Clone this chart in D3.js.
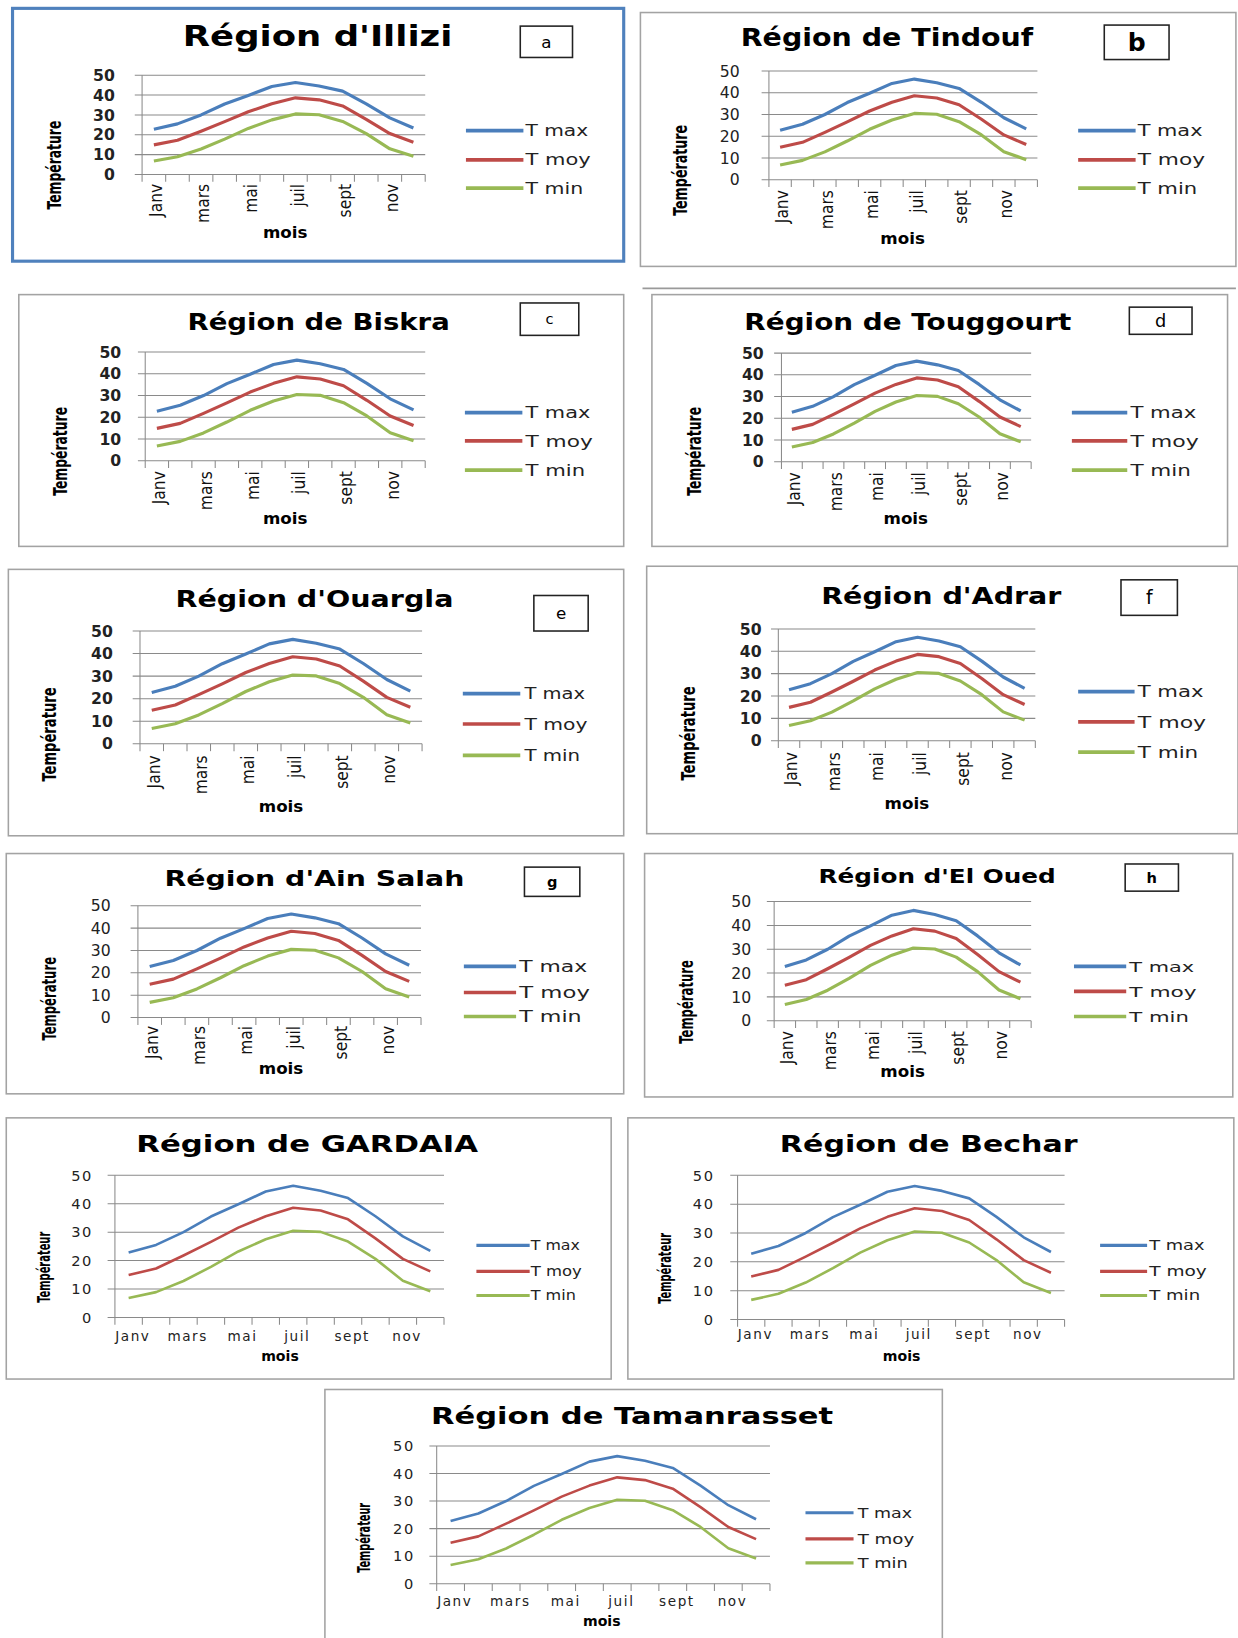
<!DOCTYPE html>
<html>
<head>
<meta charset="utf-8">
<script src="https://cdn.jsdelivr.net/npm/d3@7"></script>
<style>
  body { margin: 0; background: #fff; }
</style>
</head>
<body>
<div id="scene"></div>
<script>
// données (identiques pour toutes les régions)
var mois = ["Janv", "févr", "mars", "avr", "mai", "juin", "juil", "août", "sept", "oct", "nov", "déc"];
var tmax = [22.8, 25.5, 30, 35.5, 39.8, 44.3, 46.3, 44.6, 42, 35.6, 28.5, 23.4];
var tmoy = [14.9, 17.2, 21.8, 26.6, 31.6, 35.6, 38.6, 37.6, 34.5, 27.8, 20.6, 16.2];
var tmin = [6.8, 8.9, 12.8, 17.8, 23.2, 27.5, 30.5, 30.1, 26.7, 20.6, 12.9, 9.2];
var seriesNames = ["T max", "T moy", "T min"];
var yTicks = [0, 10, 20, 30, 40, 50];

var colors = ["#4a7ebb", "#be4b48", "#98b954"];
var F_VERD = "'DejaVu Sans', Verdana, sans-serif";
var F_NARROW = "'Liberation Sans Narrow', 'DejaVu Sans Condensed', 'Arial Narrow', sans-serif";

// mise en page de chaque graphique (coordonnées de la figure réduite 1185x1568)
var panels = [
  {title: "Région d'Illizi", box: [12, 8, 597, 250], border: "#4f81bd", bw: 3,
   tx: 304, ty: 44, tfs: 27, tw: 258, lab: [498, 25, 548, 55, "a", 16, false],
   plot: {l: 136, r: 407, t: 72, b: 167}, tickR: 110, tickBold: true, rot: true, xlab: 176,
   moisX: 273, moisY: 222, yt: "Température", ytX: 52, ytY: 158, ytW: 85,
   leg: {x0: 446, x1: 501, tx: 503, ys: [125, 153, 180], w: 60, fs: 15}, lw: 3},
  {title: "Région de Tindouf", box: [613, 12, 1183, 255],
   tx: 849, ty: 44, tfs: 23, tw: 280, lab: [1057, 24, 1119, 57, "b", 24, true],
   plot: {l: 736, r: 993, t: 68, b: 172}, tickR: 708, tickBold: false, rot: true, xlab: 182,
   moisX: 864, moisY: 228, yt: "Température", ytX: 651, ytY: 163, ytW: 87,
   leg: {x0: 1032, x1: 1087, tx: 1089, ys: [125, 153, 180], w: 62, fs: 15}, lw: 3},
  {title: "Région de Biskra", box: [18, 282, 597, 523],
   tx: 305, ty: 316, tfs: 22, tw: 251, lab: [498, 290, 554, 321, "c", 14, false],
   plot: {l: 139, r: 407, t: 337, b: 441}, tickR: 116, tickBold: true, rot: true, xlab: 451,
   moisX: 273, moisY: 496, yt: "Température", ytX: 57, ytY: 432, ytW: 85,
   leg: {x0: 445, x1: 500, tx: 503, ys: [395, 422, 450], w: 62, fs: 15}, lw: 3},
  {title: "Région de Touggourt", box: [624, 282, 1175, 523],
   tx: 869, ty: 316, tfs: 22, tw: 313, lab: [1081, 294, 1141, 320, "d", 17, false],
   plot: {l: 748, r: 987, t: 338, b: 442}, tickR: 731, tickBold: true, rot: true, xlab: 452,
   moisX: 867, moisY: 496, yt: "Température", ytX: 664, ytY: 432, ytW: 85,
   leg: {x0: 1026, x1: 1079, tx: 1082, ys: [395, 422, 450], w: 63, fs: 15}, lw: 3},
  {title: "Région d'Ouargla", box: [8, 545, 597, 800],
   tx: 301, ty: 581, tfs: 22, tw: 266, lab: [511, 570, 563, 604, "e", 16, false],
   plot: {l: 134, r: 404, t: 604, b: 712}, tickR: 108, tickBold: true, rot: true, xlab: 723,
   moisX: 269, moisY: 771, yt: "Température", ytX: 47, ytY: 703, ytW: 90,
   leg: {x0: 443, x1: 498, tx: 502, ys: [664, 693, 723], w: 58, fs: 15}, lw: 3},
  {title: "Région d'Adrar", box: [619, 542, 1185, 798],
   tx: 901, ty: 578, tfs: 22, tw: 230, lab: [1073, 555, 1127, 589, "f", 18, false],
   plot: {l: 745, r: 991, t: 602, b: 709}, tickR: 729, tickBold: true, rot: true, xlab: 720,
   moisX: 868, moisY: 769, yt: "Température", ytX: 659, ytY: 702, ytW: 90,
   leg: {x0: 1032, x1: 1086, tx: 1089, ys: [662, 691, 720], w: 63, fs: 15}, lw: 3},
  {title: "Région d'Ain Salah", box: [6, 817, 597, 1047],
   tx: 301, ty: 848, tfs: 20, tw: 287, lab: [502, 830, 555, 858, "g", 14, true],
   plot: {l: 132, r: 403, t: 867, b: 974}, tickR: 106, tickBold: false, rot: true, xlab: 982,
   moisX: 269, moisY: 1022, yt: "Température", ytX: 47, ytY: 956, ytW: 80,
   leg: {x0: 444, x1: 494, tx: 497, ys: [925, 950, 973], w: 65, fs: 15}, lw: 3},
  {title: "Région d'El Oued", box: [617, 817, 1180, 1050],
   tx: 897, ty: 845, tfs: 18, tw: 227, lab: [1077, 827, 1128, 853, "h", 14, true],
   plot: {l: 741, r: 987, t: 863, b: 977}, tickR: 719, tickBold: false, rot: true, xlab: 987,
   moisX: 864, moisY: 1025, yt: "Température", ytX: 657, ytY: 959, ytW: 80,
   leg: {x0: 1028, x1: 1078, tx: 1081, ys: [925, 949, 973], w: 62, fs: 14}, lw: 3},
  {title: "Région de GARDAIA", box: [6, 1070, 585, 1320],
   tx: 294, ty: 1103, tfs: 22, tw: 327, lab: null,
   plot: {l: 110, r: 425, t: 1125, b: 1261}, tickR: 89, tickBold: false, rot: false, xlab: 1279,
   moisX: 268, moisY: 1298, yt: "Températeur", ytX: 42, ytY: 1213, ytW: 68,
   leg: {x0: 456, x1: 507, tx: 508, ys: [1192, 1217, 1240], w: 47, fs: 13}, lw: 2.5},
  {title: "Région de Bechar", box: [601, 1070, 1181, 1320],
   tx: 889, ty: 1103, tfs: 22, tw: 285, lab: null,
   plot: {l: 706, r: 1019, t: 1125, b: 1263}, tickR: 684, tickBold: false, rot: false, xlab: 1277,
   moisX: 863, moisY: 1298, yt: "Températeur", ytX: 636, ytY: 1214, ytW: 68,
   leg: {x0: 1053, x1: 1098, tx: 1100, ys: [1192, 1217, 1240], w: 53, fs: 13}, lw: 2.5},
  {title: "Région de Tamanrasset", box: [311, 1330, 902, 1660],
   tx: 605, ty: 1363, tfs: 22, tw: 385, lab: null,
   plot: {l: 418, r: 737, t: 1384, b: 1516}, tickR: 397, tickBold: false, rot: false, xlab: 1533,
   moisX: 576, moisY: 1552, yt: "Températeur", ytX: 348, ytY: 1472, ytW: 67,
   leg: {x0: 771, x1: 817, tx: 821, ys: [1448, 1473, 1496], w: 52, fs: 13}, lw: 2.5}
];

function drawPanel(root, p) {
  var g = root.append("g");
  var data = [tmax, tmoy, tmin];

  g.append("rect")
    .attr("x", p.box[0]).attr("y", p.box[1])
    .attr("width", p.box[2] - p.box[0]).attr("height", p.box[3] - p.box[1])
    .attr("fill", "white")
    .attr("stroke", p.border || "#a3a3a3")
    .attr("stroke-width", p.bw || 1.5);

  g.append("text")
    .attr("x", p.tx).attr("y", p.ty)
    .attr("text-anchor", "middle")
    .attr("font-family", F_VERD).attr("font-weight", "bold")
    .attr("font-size", p.tfs)
    .attr("textLength", p.tw).attr("lengthAdjust", "spacingAndGlyphs")
    .text(p.title);

  if (p.lab) {
    var lb = p.lab;
    g.append("rect")
      .attr("x", lb[0]).attr("y", lb[1])
      .attr("width", lb[2] - lb[0]).attr("height", lb[3] - lb[1])
      .attr("fill", "white").attr("stroke", "#222").attr("stroke-width", 1.5);
    g.append("text")
      .attr("x", (lb[0] + lb[2]) / 2).attr("y", (lb[1] + lb[3]) / 2)
      .attr("dy", "0.36em").attr("text-anchor", "middle")
      .attr("font-family", F_VERD).attr("font-size", lb[5])
      .attr("font-weight", lb[6] ? "bold" : "normal")
      .text(lb[4]);
  }

  var x = d3.scaleBand().domain(mois).range([p.plot.l, p.plot.r]);
  var y = d3.scaleLinear().domain([0, 50]).range([p.plot.b, p.plot.t]);
  var half = x.bandwidth() / 2;

  // grille horizontale (+ petits traits à gauche de l'axe)
  g.selectAll(".grid").data(yTicks).enter().append("line")
    .attr("x1", p.plot.l - 7).attr("x2", p.plot.r)
    .attr("y1", function(d) { return y(d); })
    .attr("y2", function(d) { return y(d); })
    .attr("stroke", "#8a8a8a").attr("stroke-width", 1);

  g.append("line")
    .attr("x1", p.plot.l).attr("x2", p.plot.l)
    .attr("y1", y(50)).attr("y2", y(0))
    .attr("stroke", "#8a8a8a").attr("stroke-width", 1);

  // traits de graduation de l'axe des mois
  var bounds = mois.map(function(m) { return x(m); }).concat([p.plot.r]);
  g.selectAll(".xt").data(bounds).enter().append("line")
    .attr("x1", function(d) { return d; }).attr("x2", function(d) { return d; })
    .attr("y1", y(0)).attr("y2", y(0) + 7)
    .attr("stroke", "#8a8a8a").attr("stroke-width", 1);

  g.selectAll(".yl").data(yTicks).enter().append("text")
    .attr("x", p.tickR).attr("y", function(d) { return y(d); })
    .attr("dy", "0.36em").attr("text-anchor", "end")
    .attr("font-family", F_VERD).attr("font-size", p.rot ? 15 : 14)
    .attr("letter-spacing", p.rot ? 0 : 1.5)
    .attr("font-weight", p.tickBold ? "bold" : "normal")
    .attr("fill", "#222")
    .text(function(d) { return d; });

  var shown = mois.filter(function(m, i) { return i % 2 === 0; });
  if (p.rot) {
    g.selectAll(".xl").data(shown).enter().append("text")
      .attr("transform", function(d) { return "translate(" + (x(d) + half + 2) + "," + p.xlab + ") rotate(-90)"; })
      .attr("dy", "0.36em").attr("text-anchor", "end")
      .attr("font-family", F_NARROW).attr("font-size", 16.5)
      .attr("fill", "#111")
      .text(function(d) { return d; });
  } else {
    g.selectAll(".xl").data(shown).enter().append("text")
      .attr("x", function(d) { return x(d) + half + 4; }).attr("y", p.xlab)
      .attr("dy", "0.36em").attr("text-anchor", "middle")
      .attr("font-family", F_VERD).attr("font-size", 13)
      .attr("letter-spacing", 1.5)
      .attr("fill", "#222")
      .text(function(d) { return d; });
  }

  g.append("text")
    .attr("x", p.moisX).attr("y", p.moisY).attr("dy", "0.36em")
    .attr("text-anchor", "middle")
    .attr("font-family", F_VERD).attr("font-weight", "bold")
    .attr("font-size", p.rot ? 16 : 13.5)
    .text("mois");

  g.append("text")
    .attr("transform", "translate(" + p.ytX + "," + p.ytY + ") rotate(-90)")
    .attr("dy", "0.36em").attr("text-anchor", "middle")
    .attr("font-family", F_NARROW).attr("font-weight", "bold")
    .attr("font-size", p.rot ? 18.5 : 16.5)
    .attr("textLength", p.ytW).attr("lengthAdjust", "spacingAndGlyphs")
    .text(p.yt);

  var line = d3.line()
    .x(function(d, i) { return x(mois[i]) + half; })
    .y(function(d) { return y(d); });

  g.selectAll(".serie").data(data).enter().append("path")
    .attr("d", line)
    .attr("fill", "none")
    .attr("stroke", function(d, i) { return colors[i]; })
    .attr("stroke-width", p.lw)
    .attr("stroke-linejoin", "round");

  var widths = [p.leg.w, p.leg.w * 1.04, p.leg.w * 0.92];
  seriesNames.forEach(function(name, i) {
    g.append("line")
      .attr("x1", p.leg.x0).attr("x2", p.leg.x1)
      .attr("y1", p.leg.ys[i]).attr("y2", p.leg.ys[i])
      .attr("stroke", colors[i]).attr("stroke-width", p.lw + 0.5);
    g.append("text")
      .attr("x", p.leg.tx).attr("y", p.leg.ys[i]).attr("dy", "0.36em")
      .attr("font-family", F_VERD).attr("font-size", p.leg.fs)
      .attr("textLength", widths[i]).attr("lengthAdjust", "spacingAndGlyphs")
      .attr("fill", "#222")
      .text(name);
  });
}

var svg = d3.select("#scene").append("svg")
  .attr("width", 1238).attr("height", 1638);
svg.append("rect").attr("width", 1238).attr("height", 1638).attr("fill", "white");

var root = svg.append("g").attr("transform", "scale(" + (1238 / 1185) + ")");

panels.forEach(function(p) { drawPanel(root, p); });

// trait isolé sous le graphique b
root.append("line")
  .attr("x1", 615).attr("x2", 1183).attr("y1", 276).attr("y2", 276)
  .attr("stroke", "#9a9a9a").attr("stroke-width", 1.5);
</script>
</body>
</html>
